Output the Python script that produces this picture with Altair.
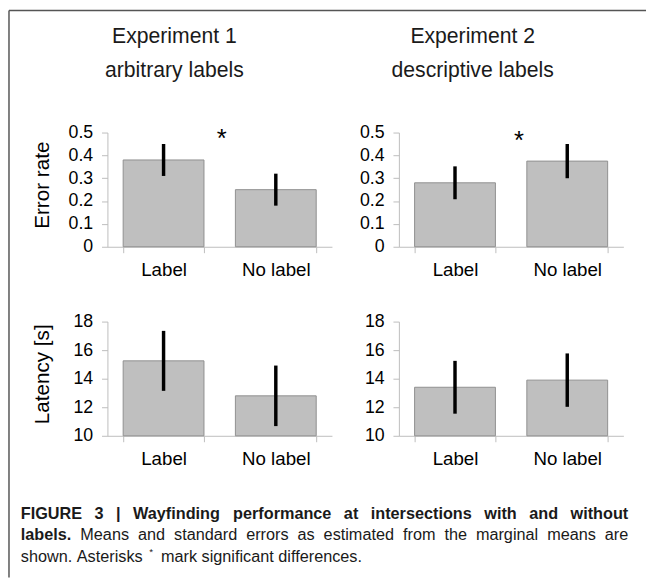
import altair as alt
import pandas as pd

categories = ["Label", "No label"]

exp1_err_mean = [0.38, 0.25]
exp1_err_se = [0.07, 0.07]
exp2_err_mean = [0.28, 0.375]
exp2_err_se = [0.072, 0.075]

exp1_lat_mean = [15.25, 12.8]
exp1_lat_se = [2.1, 2.12]
exp2_lat_mean = [13.4, 13.9]
exp2_lat_se = [1.85, 1.87]

err_ticks = [0, 0.1, 0.2, 0.3, 0.4, 0.5]
lat_ticks = [10, 12, 14, 16, 18]

# significance markers: (category whose left band edge holds the marker, y value)
exp1_star = ["No label", 0.437]
exp2_star = ["No label", 0.427]

col_titles = [["Experiment 1", "arbitrary labels"], ["Experiment 2", "descriptive labels"]]
caption_line1 = [("FIGURE 3 | Wayfinding performance at intersections with and without", True)]
caption_line2 = [("labels.", True),
                 ("Means and standard errors as estimated from the marginal means are", False)]
caption_line3a = "shown. Asterisks"
caption_line3b = "mark significant differences."

FONT = "Liberation Sans"
W = 228
H = 116

# Arial / Liberation Sans advance widths (per 1000 em)
REG = dict(zip("abcdefghijklmnopqrstuvwxyz",
               [556, 556, 500, 556, 556, 278, 556, 556, 222, 222, 500, 222, 833,
                556, 556, 556, 556, 333, 500, 278, 556, 500, 722, 500, 500, 500]))
REG.update({"A": 667, "M": 833, ".": 278, "|": 260, "*": 389, " ": 278})
BLD = dict(zip("abcdefghijklmnopqrstuvwxyz",
               [556, 611, 556, 611, 556, 333, 611, 611, 278, 278, 556, 278, 889,
                611, 611, 611, 611, 389, 556, 333, 611, 556, 778, 556, 556, 500]))
BLD.update({"F": 611, "I": 278, "G": 778, "U": 722, "R": 722, "E": 667, "W": 944,
            "3": 556, ".": 278, "|": 280, " ": 278})


def tw(s, bold, size):
    t = BLD if bold else REG
    return sum(t.get(c, 556) for c in s) * size / 1000.0


CS = 16.5
LINE_W = 617
X0 = 12


def justify(parts, y):
    words = []
    for text, bold in parts:
        for w in text.split(" "):
            words.append((w, bold))
    total = sum(tw(w, b, CS) for w, b in words)
    gap = (LINE_W - total) / (len(words) - 1)
    rows, x = [], X0
    for w, b in words:
        rows.append({"w": w, "bold": b, "x": x, "y": y})
        x += tw(w, b, CS) + gap
    return rows


def natural(text, x, y):
    rows = []
    for w in text.split(" "):
        rows.append({"w": w, "bold": False, "x": x, "y": y})
        x += tw(w + " ", False, CS)
    return rows, x


def panel(mean, se, domain, ticks, fmt, ytitle, star=None, star_dx=-14):
    df = pd.DataFrame({
        "cat": categories,
        "mean": mean,
        "lo": [m - s for m, s in zip(mean, se)],
        "hi": [m + s for m, s in zip(mean, se)],
    })
    xscale = alt.Scale(domain=categories, paddingInner=0.28, paddingOuter=0.14)
    xaxis = alt.Axis(title=None, labelAngle=0, tickBand="extent", grid=False,
                     domainColor="#bdbdbd", tickColor="#bdbdbd", tickSize=6,
                     labelPadding=8, labelFontSize=19, labelColor="black",
                     labelFont=FONT)
    yaxis_kw = dict(values=ticks, format=fmt, grid=False, labelOverlap=False,
                    domainColor="#bdbdbd", tickColor="#bdbdbd", tickSize=6,
                    labelPadding=9, labelFontSize=18, labelColor="black",
                    labelFont=FONT)
    if ytitle:
        yaxis = alt.Axis(title=ytitle, titleFontSize=21, titleFontWeight="normal",
                         titleFont=FONT, titleColor="black", titleX=-66,
                         titleY=H / 2 - 5, titleBaseline="middle",
                         titleAlign="center", **yaxis_kw)
    else:
        yaxis = alt.Axis(title=None, **yaxis_kw)
    yscale = alt.Scale(domain=domain, nice=False, zero=False)
    base = alt.Chart(df)
    bars = base.mark_bar(fill="#bfbfbf", stroke="#8f8f8f", strokeWidth=1).encode(
        x=alt.X("cat:N", scale=xscale, axis=xaxis),
        y=alt.Y("mean:Q", scale=yscale, axis=yaxis),
        y2=alt.datum(domain[0]),
    )
    err = base.mark_rule(color="black", strokeWidth=3.5).encode(
        x=alt.X("cat:N", scale=xscale, axis=xaxis),
        y=alt.Y("lo:Q", scale=yscale, axis=yaxis),
        y2="hi:Q",
    )
    layers = [bars, err]
    if star:
        sdf = pd.DataFrame({"cat": [star[0]], "y": [star[1]]})
        s = alt.Chart(sdf).mark_text(text="*", fontSize=26, font=FONT, dx=star_dx,
                                     baseline="alphabetic", align="center",
                                     color="black").encode(
            x=alt.X("cat:N", scale=xscale, bandPosition=0, axis=xaxis),
            y=alt.Y("y:Q", scale=yscale, axis=yaxis),
        )
        layers.append(s)
    return alt.layer(*layers).properties(width=W, height=H)


one = pd.DataFrame({"a": [0]})


def txt(text, x, y, size, weight="normal", align="left"):
    return alt.Chart(one).mark_text(text=text, fontSize=size, font=FONT,
                                    fontWeight=weight, align=align,
                                    baseline="alphabetic", color="#1a1a1a").encode(
        x=alt.value(x), y=alt.value(y))


# top-left cell: spacer carrying the column titles and the figure frame
hdr = []
for (l1, l2), cx in zip(col_titles, [168, 471]):
    hdr.append(txt(l1, cx, -91, 21.5, align="center"))
    hdr.append(txt(l2, cx, -56, 21.5, align="center"))
hdr.append(alt.Chart(one).mark_rule(color="#555555", strokeWidth=1.5).encode(
    x=alt.value(0), x2=alt.value(647), y=alt.value(-124)))
hdr.append(alt.Chart(one).mark_rule(color="#555555", strokeWidth=1.5).encode(
    x=alt.value(0), y=alt.value(-124), y2=alt.value(452)))
cell_hdr = alt.layer(*hdr).properties(width=32, height=H)

# bottom-left cell: spacer carrying the caption (justified lines 1-2)
rows = justify(caption_line1, 200) + justify(caption_line2, 222)
r3a, xe = natural(caption_line3a, X0, 244)
star_x = xe + 2
r3b, _ = natural(caption_line3b, star_x + 12, 244)
rows += r3a + r3b
cap_df = pd.DataFrame(rows)


def cap_layer(bold):
    return alt.Chart(cap_df).transform_filter(
        alt.datum.bold if bold else ~alt.datum.bold
    ).mark_text(fontSize=CS, font=FONT, fontWeight="bold" if bold else "normal",
                align="left", baseline="alphabetic", color="#1a1a1a").encode(
        x=alt.X("x:Q", scale=None, axis=None),
        y=alt.Y("y:Q", scale=None, axis=None),
        text="w:N",
    )


cell_cap = alt.layer(cap_layer(True), cap_layer(False),
                     txt("*", star_x, 237, 10)).properties(width=32, height=H)

chart = alt.concat(
    cell_hdr,
    panel(exp1_err_mean, exp1_err_se, [0, 0.5], err_ticks, ".1~f", "Error rate", exp1_star, -14),
    panel(exp2_err_mean, exp2_err_se, [0, 0.5], err_ticks, ".1~f", None, exp2_star, -8),
    cell_cap,
    panel(exp1_lat_mean, exp1_lat_se, [10, 18], lat_ticks, "d", "Latency [s]"),
    panel(exp2_lat_mean, exp2_lat_se, [10, 18], lat_ticks, "d", None),
    columns=3, spacing={"row": 76, "column": 68}, bounds="flush",
    padding={"top": -3, "left": 0, "right": 0, "bottom": 0},
).configure(font=FONT).configure_view(strokeWidth=0)

chart.save("out.html", embed_options={"renderer": "svg", "actions": False})
